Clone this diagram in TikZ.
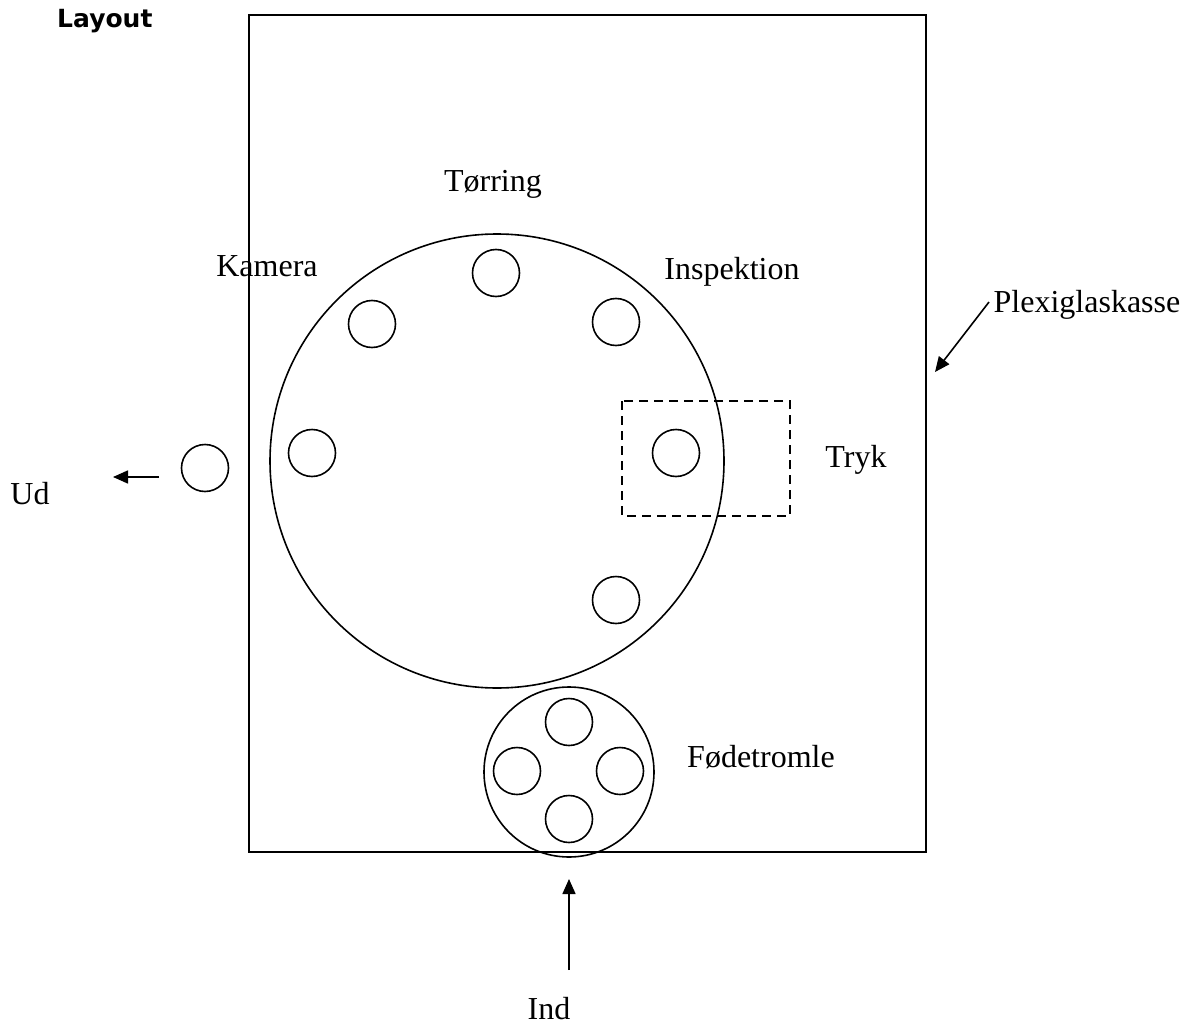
\documentclass[tikz,border=0pt]{standalone}
\usepackage{fontspec}
\setmainfont{Liberation Serif}
\newfontfamily\headfont{DejaVu Sans}
\usetikzlibrary{arrows.meta}
\tikzset{
  lbl/.style={anchor=base, inner sep=0pt, font=\fontsize{32}{38}\selectfont},
  ln/.style={line width=1.6pt},
  smallc/.style={draw, circle, ln, minimum size=47pt, inner sep=0pt},
  arr/.style={ln, -{Triangle[length=15pt,width=13pt]}}
}
\begin{document}
\begin{tikzpicture}[x=1pt,y=-1pt]
\useasboundingbox (0,0) rectangle (1192,1025);
% title
\node[anchor=base west, inner sep=0pt, font=\headfont\bfseries\fontsize{25}{30}\selectfont] (title) at (57,28) {Layout};
% box
\draw[ln] (249,15) rectangle (926,852);
\coordinate (boxpt) at (935,372);
% big wheel
\node[draw, circle, ln, minimum size=454pt, inner sep=0pt] (wheel) at (497,461) {};
\node[smallc] (c1) at (496,273) {};
\node[smallc] (c2) at (372,324) {};
\node[smallc] (c3) at (616,322) {};
\node[smallc] (c4) at (312,453) {};
\node[smallc] (c5) at (676,453) {};
\node[smallc] (c6) at (616,600) {};
\node[smallc] (cout) at (205,468) {};
% dashed print area
\draw[ln, dash pattern=on 9pt off 6pt] (622,401) rectangle (790,516);
% feed drum
\node[draw, circle, ln, minimum size=170pt, inner sep=0pt] (drum) at (569,772) {};
\node[smallc] (d1) at (569,722) {};
\node[smallc] (d2) at (517,771) {};
\node[smallc] (d3) at (620,771) {};
\node[smallc] (d4) at (569,819) {};
% labels
\node[lbl] (torring) at (493,191) {Tørring};
\node[lbl] (kamera) at (267,276) {Kamera};
\node[lbl] (insp) at (732,279) {Inspektion};
\node[lbl] (tryk) at (856,467) {Tryk};
\node[lbl] (plexi) at (1087,312) {Plexiglaskasse};
\node[lbl] (fode) at (761,767) {Fødetromle};
\node[lbl] (ud) at (30,504) {Ud};
\node[lbl] (ind) at (549,1019) {Ind};
% arrows
\coordinate (udstart) at (159,477);
\coordinate (udend) at (113,477);
\draw[arr] (udstart) -- (udend);
\coordinate (indstart) at (569,970);
\coordinate (indend) at (569,879);
\draw[arr] (indstart) -- (indend);
\coordinate (plexstart) at (989,302);
\draw[arr] (plexstart) -- (boxpt);
\end{tikzpicture}
\end{document}
